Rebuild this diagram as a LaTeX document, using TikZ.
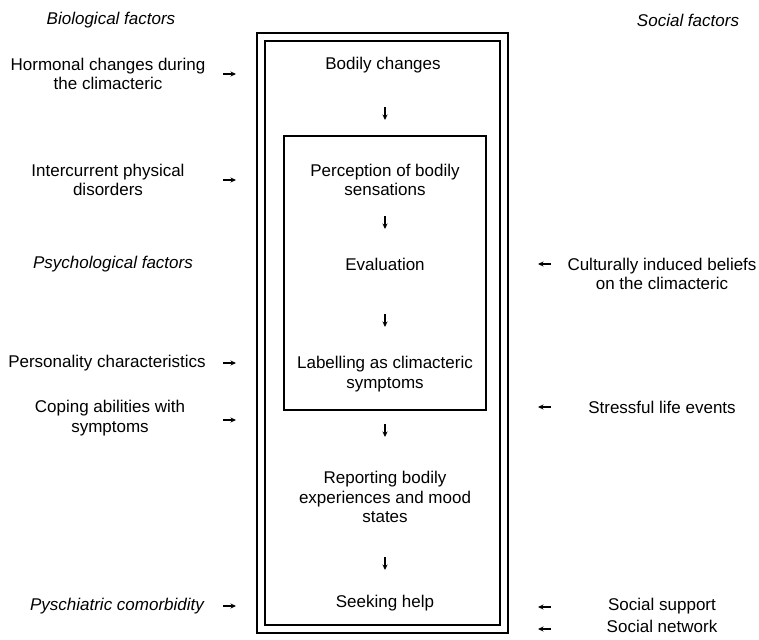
\documentclass[tikz,border=0pt]{standalone}
\usepackage{fontspec}
\setmainfont{Liberation Sans}
\usetikzlibrary{arrows.meta}
\usetikzlibrary{positioning}
\usetikzlibrary{calc}

\begin{document}
\begin{tikzpicture}[x=1pt,y=-1pt,>={Stealth[length=5.5pt,width=5pt]},
                    txt/.style={align=center,inner sep=0pt,font=\fontsize{17}{19.5}\selectfont},
                    head/.style={txt,font=\fontsize{17}{19.5}\selectfont\itshape},
                    flow/.style={->,line width=1.2pt},
                    frame/.style={draw,line width=1.7pt}]

  \useasboundingbox (0,0) rectangle (759,639);

  % frames
  \draw[frame] (257,33) rectangle (508,633);
  \draw[frame] (265,41) rectangle (500,625);
  \draw[frame] (284,136) rectangle (486,410);

  % left column
  \node[head] (bio) at (111,20) {Biological factors};
  \node[txt] (hormonal) at (108,74) {Hormonal changes during\\the climacteric};
  \node[txt] (intercurrent) at (108,180) {Intercurrent physical\\disorders};
  \node[head] (psych) at (113,264) {Psychological factors};
  \node[txt] (personality) at (107,363) {Personality characteristics};
  \node[txt] (coping) at (110,418) {Coping abilities with\\symptoms};
  \node[head] (psychiatric) at (117,606) {Pyschiatric comorbidity};

  % middle column
  \node[txt] (bodily) at (383,65) {Bodily changes};
  \node[txt] (perception) at (385,180) {Perception of bodily\\sensations};
  \node[txt] (evaluation) at (385,264) {Evaluation};
  \node[txt] (labelling) at (385,374) {Labelling as climacteric\\symptoms};
  \node[txt] (reporting) at (385,497) {Reporting bodily\\experiences and mood\\states};
  \node[txt] (seeking) at (385,603) {Seeking help};

  % right column
  \node[head] (social) at (688,20) {Social factors};
  \node[txt] (beliefs) at (662,274) {Culturally induced beliefs\\on the climacteric};
  \node[txt] (stress) at (662,407) {Stressful life events};
  \node[txt] (support) at (662,606) {Social support};
  \node[txt] (network) at (662,626) {Social network};

  % arrow tails
  \coordinate (d1) at (385,107);
  \coordinate (d2) at (385,216);
  \coordinate (d3) at (385,314);
  \coordinate (d4) at (385,424);
  \coordinate (d5) at (385,557);
  \coordinate (l1) at (223,74);
  \coordinate (l2) at (223,180);
  \coordinate (l3) at (223,363);
  \coordinate (l4) at (223,420);
  \coordinate (l5) at (223,606);
  \coordinate (r1) at (551,264);
  \coordinate (r2) at (551,407);
  \coordinate (r3) at (551,607);
  \coordinate (r4) at (551,629);

  \draw[flow] (d1) -- ++(0,13);
  \draw[flow] (d2) -- ++(0,13);
  \draw[flow] (d3) -- ++(0,13);
  \draw[flow] (d4) -- ++(0,13);
  \draw[flow] (d5) -- ++(0,13);
  \draw[flow] (l1) -- ++(13,0);
  \draw[flow] (l2) -- ++(13,0);
  \draw[flow] (l3) -- ++(13,0);
  \draw[flow] (l4) -- ++(13,0);
  \draw[flow] (l5) -- ++(13,0);
  \draw[flow] (r1) -- ++(-13,0);
  \draw[flow] (r2) -- ++(-13,0);
  \draw[flow] (r3) -- ++(-13,0);
  \draw[flow] (r4) -- ++(-13,0);
\end{tikzpicture}
\end{document}
